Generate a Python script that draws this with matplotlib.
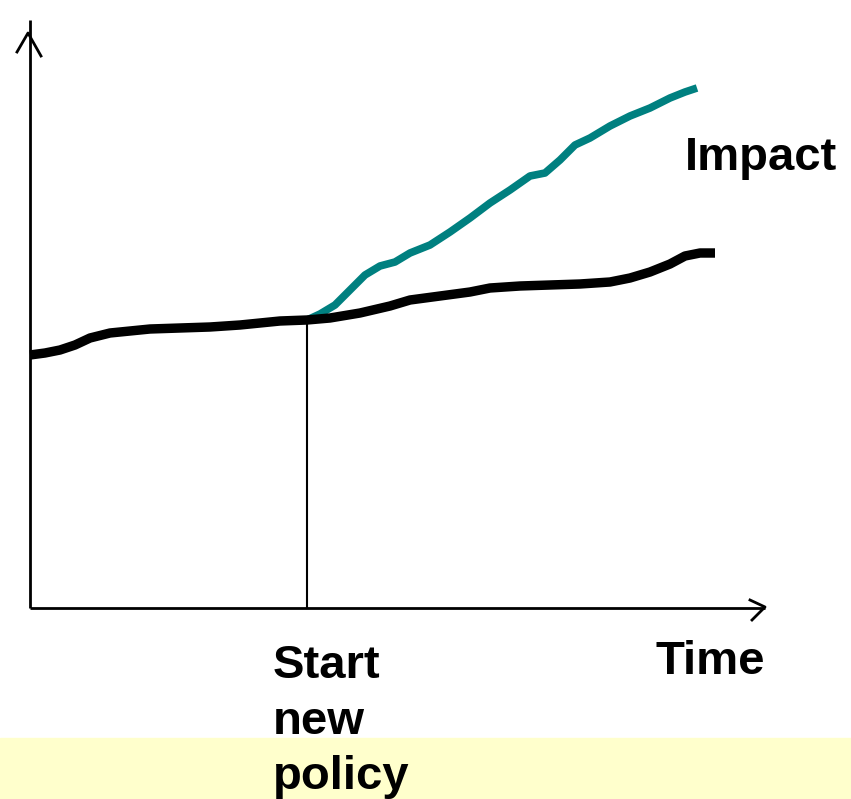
import matplotlib
matplotlib.use("Agg")
import matplotlib.pyplot as plt

# Data (time units, value units; origin at axes corner)
baseline_t = [0, 15, 30, 45, 60, 80, 100, 120, 150, 180, 210, 230, 250, 277, 300, 330, 360, 380,
              410, 440, 460, 490, 520, 550, 580, 600, 620, 640, 655, 670, 685]
baseline_v = [253, 255, 258, 263, 270, 275, 277, 279, 280, 281, 283, 285, 287, 288, 290, 295, 302,
              308, 312, 316, 320, 322, 323, 324, 326, 330, 336, 344, 352, 355, 355]
impact_t = [277, 290, 305, 320, 335, 350, 365, 380, 400, 420, 440, 460, 480, 500, 515, 530, 545,
            560, 580, 600, 620, 640, 655, 667]
impact_v = [288, 294, 303, 318, 333, 342, 346, 355, 363, 376, 390, 405, 418, 432, 435, 448, 463,
            470, 482, 492, 500, 510, 516, 520]
policy_start = 277

fig = plt.figure(figsize=(8.51, 7.99), dpi=100)
ax = fig.add_axes([0, 0, 1, 1])
ax.set_xlim(-30, 821)
ax.set_ylim(-191, 608)
ax.axis("off")

# yellow band at bottom
ax.axhspan(-191, -130, color="#FFFFCC", zorder=0)

# axes lines
ax.plot([0, 0], [0, 588], color="black", lw=2.0, solid_capstyle="butt")
ax.plot([0, 735], [0, 0], color="black", lw=2.0, solid_capstyle="butt")
# arrowheads (open)
ax.plot([-13, -2, 11], [556, 575, 552], color="black", lw=2.0)
ax.plot([720, 735, 722], [8, 1, -12], color="black", lw=2.0)

# start line
ax.plot([policy_start, policy_start], [0, 288], color="black", lw=1.5)

# curves
ax.plot(impact_t, impact_v, color="#008080", lw=5.5, solid_capstyle="butt", zorder=3)
ax.plot(baseline_t, baseline_v, color="black", lw=6.8, solid_capstyle="butt", zorder=4)

font = dict(family=["Liberation Sans", "DejaVu Sans"], fontweight="bold", fontsize=34)
ax.text(655, 450, "Impact", ha="left", va="center", **font)
ax.text(625, -54, "Time", ha="left", va="center", **font)
ax.text(243, -36, "Start\nnew\npolicy", ha="left", va="top", linespacing=1.34, **font)

fig.savefig("out.png", dpi=100)
